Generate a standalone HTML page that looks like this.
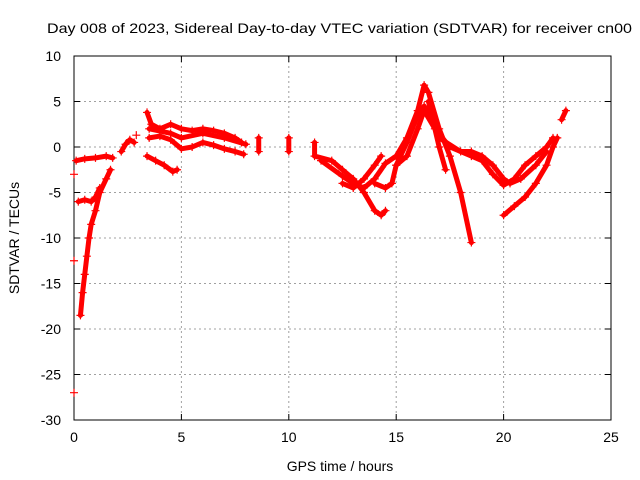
<!DOCTYPE html>
<html><head><meta charset="utf-8"><style>
body{margin:0;background:#fff}
svg{display:block;font-family:"Liberation Sans",sans-serif}
</style></head><body>
<svg id="chart" width="640" height="480">
<text x="47" y="33" font-size="14" textLength="585" lengthAdjust="spacingAndGlyphs">Day 008 of 2023, Sidereal Day-to-day VTEC variation (SDTVAR) for receiver cn00</text>
<g id="grid"></g>
<g id="axes"></g>
<g id="series"></g>
<text x="340" y="471" text-anchor="middle" font-size="14">GPS time / hours</text>
<text transform="translate(19,238) rotate(-90)" text-anchor="middle" font-size="14">SDTVAR / TECUs</text>
</svg>
<script>
const xTicks=[0,5,10,15,20,25];
const yTicks=[10,5,0,-5,-10,-15,-20,-25,-30];
const track1=[[0.3,-18.5],[0.4,-16],[0.5,-14],[0.6,-12],[0.7,-10],[0.8,-8.5],[1.0,-7],[1.2,-5],[1.5,-3.5],[1.7,-2.5]];
const track2=[[0.2,-6],[0.5,-5.8],[0.8,-6],[1.0,-5.5],[1.2,-4.5]];
const track3=[[0.1,-1.5],[0.5,-1.3],[1,-1.2],[1.5,-1],[1.8,-1.2]];
const track4=[[2.2,-0.5],[2.4,0.3],[2.6,0.8],[2.8,0.5]];
const track5=[[3.4,-1],[3.8,-1.5],[4.2,-2],[4.6,-2.7],[4.8,-2.5]];
const track6=[[3.4,3.8],[3.6,2.5],[4,2],[4.5,2.5],[5,2],[5.5,1.8],[6,2],[6.5,1.8],[7,1.5],[7.5,1],[7.8,0.5]];
const track7=[[3.5,1],[4,1.2],[4.5,0.8],[5,-0.2],[5.5,0],[6,0.5],[6.5,0.2],[7,-0.2],[7.5,-0.5],[7.9,-0.8]];
const track8=[[3.5,2],[4.5,1.5],[5,1],[6,1.5],[7,1],[8,0.3]];
const track9=[[8.6,1],[8.6,-0.5]];
const track10=[[10,1],[10,-0.5]];
const track11=[[11.2,0.5],[11.2,-1],[12,-1.5],[12.5,-2.5],[13,-3.5],[13.5,-5],[14,-7],[14.3,-7.5],[14.5,-7]];
const track12=[[11.5,-1.5],[12.5,-3.2],[13,-4],[13.5,-4.5],[14,-3.5],[14.5,-1.8],[15,-1],[15.5,1],[16,4],[16.3,6.8],[16.5,6],[17,2],[17.5,-1],[18,-5],[18.5,-10.5]];
const track13=[[12.5,-4],[13,-4.5],[13.5,-3.5],[14,-2],[14.3,-1]];
const track14=[[14,-4],[14.5,-4.5],[14.8,-4],[15,-2],[15.5,0.5],[16,3.5],[16.3,4.5],[16.7,3],[17,0],[17.3,-2.5]];
const track15=[[15,-2],[15.5,-1],[16,2],[16.3,4],[16.8,2],[17.5,0],[18.5,-1],[19,-1.5],[19.5,-3],[20,-4.2],[20.5,-3.5],[21,-2],[21.5,-1],[22,0],[22.3,1]];
const track16=[[16.5,5],[17,1],[18,-0.5],[18.5,-0.5],[19,-1],[19.5,-2],[20,-3.5],[20.3,-4],[20.8,-3.5],[21.5,-2],[22,-0.5]];
const track17=[[20,-7.5],[20.5,-6.5],[21,-5.5],[21.5,-4],[22,-2],[22.3,0],[22.5,1]];
const track18=[[22.7,3],[22.9,4]];
const outliers=[[0,-27],[0,-12.5],[0,-3],[2.9,1.3]];
const tracks=[track1,track2,track3,track4,track5,track6,track7,track8,track9,track10,track11,track12,track13,track14,track15,track16,track17,track18];

const X0=74,X1=611,Y0=56,Y1=420;
const xs=v=>X0+(v-0)/25*(X1-X0);
const ys=v=>Y1-(v+30)/40*(Y1-Y0);
const NS="http://www.w3.org/2000/svg";
const mk=(t,a)=>{const e=document.createElementNS(NS,t);for(const k in a)e.setAttribute(k,a[k]);return e;};
const grid=document.getElementById('grid'),axes=document.getElementById('axes'),ser=document.getElementById('series');
xTicks.forEach(t=>{
 if(t>0&&t<25){const l=mk('line',{x1:xs(t),x2:xs(t),y1:Y0,y2:Y1,stroke:'#a0a0a0','stroke-dasharray':'2,3'});
 
 grid.appendChild(l);}
 const tk=mk('path',{d:`M${xs(t)},${Y1}v-6M${xs(t)},${Y0}v6`,stroke:'#000'});
 
 axes.appendChild(tk);
 const tx=mk('text',{x:xs(t),y:Y1+22,'text-anchor':'middle','font-size':14});tx.textContent=t;
 
 axes.appendChild(tx);
});
yTicks.forEach(t=>{
 if(t>-30&&t<10){const l=mk('line',{x1:X0,x2:X1,y1:ys(t),y2:ys(t),stroke:'#a0a0a0','stroke-dasharray':'2,3'});
 
 grid.appendChild(l);}
 const tk=mk('path',{d:`M${X0},${ys(t)}h6M${X1},${ys(t)}h-6`,stroke:'#000'});
 
 axes.appendChild(tk);
 const tx=mk('text',{x:X0-13,y:ys(t)+5,'text-anchor':'end','font-size':14});tx.textContent=t;
 
 axes.appendChild(tx);
});
const fr=mk('rect',{x:X0,y:Y0,width:X1-X0,height:Y1-Y0,fill:'none',stroke:'#000'});

axes.appendChild(fr);
const plus=(p)=>{const e=mk('path',{d:`M${xs(p[0])-4},${ys(p[1])}h8M${xs(p[0])},${ys(p[1])-4}v8`,stroke:'#ff0000','stroke-width':1.2});
 
 ser.appendChild(e);};
tracks.forEach(tr=>{
 const pl=mk('polyline',{points:tr.map(p=>xs(p[0])+','+ys(p[1])).join(' '),fill:'none',stroke:'#ff0000','stroke-width':5,'stroke-linejoin':'round','stroke-linecap':'round'});
 
 ser.appendChild(pl);
 tr.forEach(plus);
});
outliers.forEach(plus);
</script>
</body></html>
